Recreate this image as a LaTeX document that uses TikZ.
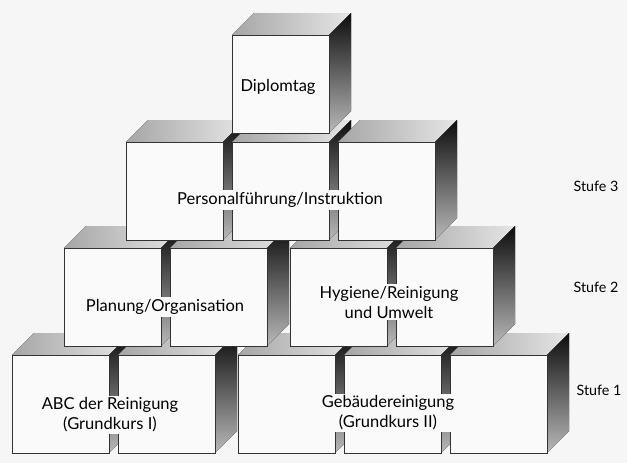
\documentclass[tikz,border=0pt]{standalone}
\usepackage{fontspec}
\setmainfont{Lato}

\begin{document}
\begin{tikzpicture}[x=1pt, y=-1pt,
              front/.style = {fill=gray!4, draw=black!80, line width=0.5pt},
              topface/.style = {left color=gray!70, right color=gray!20},
              sideface/.style = {top color=black!95, bottom color=gray!55},
              boxtext/.style = {fill=gray!4, inner sep=2pt, align=center,
                                font=\fontsize{16.5}{20}\selectfont},
              stufe/.style = {font=\fontsize{14.3}{16}\selectfont}]
  \useasboundingbox (0,0) rectangle (627,463);
  \fill[gray!7] (0,0) rectangle (627,463);
  \foreach \x/\y in {12/355, 118/355, 238/355, 344/355, 450/355,
                     64/248, 170/248, 290/248, 396/248,
                     126/142, 232/142, 338/142,
                     232/35} {
    \fill[topface] (\x,\y) -- (\x+97,\y) -- (\x+119,\y-22) -- (\x+22,\y-22) -- cycle;
    \fill[sideface] (\x+97,\y) -- (\x+119,\y-22) -- (\x+119,\y+76) -- (\x+97,\y+98) -- cycle;
    \draw[front] (\x,\y) rectangle (\x+97,\y+98);
  }
  \node[boxtext] (diplom) at (278,87) {Diplomtag};
  \node[boxtext] (personal) at (280,200) {Personalführung/Instruktion};
  \node[boxtext] (planung) at (165,307) {Planung/Organisation};
  \node[boxtext] (hygiene) at (389,302) {Hygiene/Reinigung\\und Umwelt};
  \node[boxtext] (abc) at (110,415) {ABC der Reinigung\\(Grundkurs I)};
  \node[boxtext] (gebaeude) at (388,413) {Gebäudereinigung\\(Grundkurs II)};
  \node[stufe] (stufe3) at (596,186) {Stufe 3};
  \node[stufe] (stufe2) at (596,287) {Stufe 2};
  \node[stufe] (stufe1) at (599,390) {Stufe 1};
\end{tikzpicture}
\end{document}
